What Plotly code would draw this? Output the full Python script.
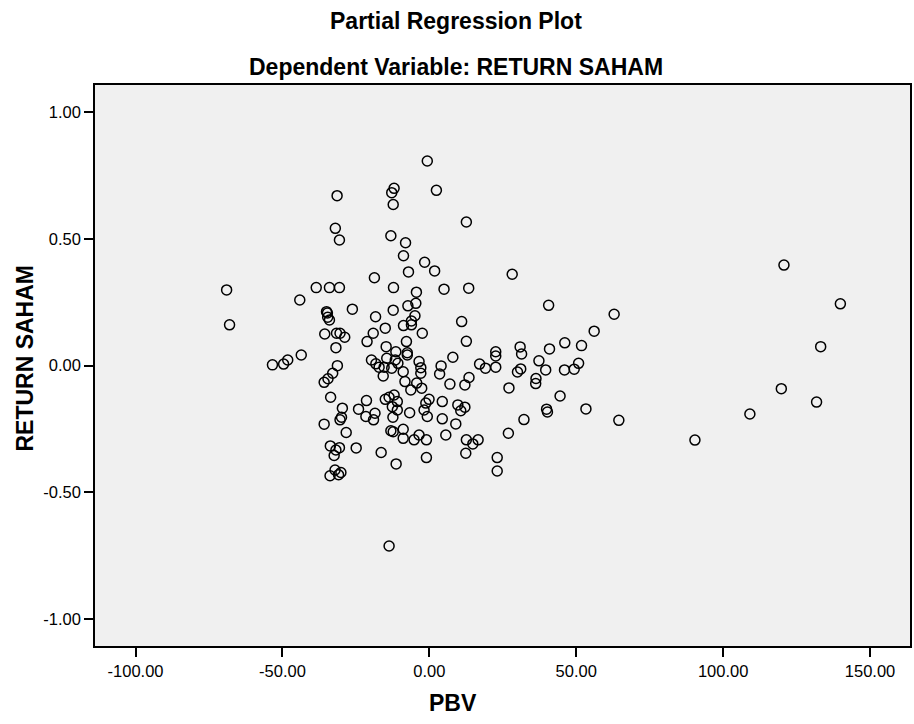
import plotly.graph_objects as go

# PBV (x) and RETURN SAHAM (y) partial residuals
pbv = [
    -69.0, -68.0, -53.4, -49.6, -48.2, -43.6, -44.1, -38.5, -34.0, -30.6,
    -31.4, -32.0, -30.6, -26.2, -35.0, -34.7, -34.6, -34.0, -35.6, -31.6,
    -30.4, -28.8, -31.8, -31.3, -32.9, -34.5, -35.8, -33.6, -29.6, -29.9,
    -30.4, -35.8, -28.3, -33.7, -30.6, -31.8, -32.4, -32.1, -30.1, -30.9,
    -33.8, -24.9, -19.1, -21.2, -18.7, -18.3, -19.7, -18.2, -17.1, -15.4,
    -14.5, -12.8, -15.7, -11.6, -10.7, -15.0, -14.7, -11.4, -21.4, -24.1,
    -21.6, -18.5, -19.0, -15.0, -13.7, -12.0, -12.6, -12.4, -13.1, -12.3,
    -16.4, -11.3, -13.7, -12.0, -12.8, -12.3, -13.1, -12.2, -12.3,
    -0.7, 2.4, 12.6, -8.1, -8.8, -1.6, 1.8, -7.1, 28.2, -4.4,
    5.0, 13.4, -4.6, -7.3, -4.9, -6.1, -6.1, -8.8, -2.4, 11.0,
    12.6, -7.8, -7.5, -7.5, -3.5, -2.9, -2.9, -8.9, -8.3, -4.3,
    -6.3, -2.6, 4.0, 3.5, 8.0, 7.0, 12.1, 13.5, 17.1, 19.1,
    -10.9, -10.9, -6.7, -0.1, -1.2, -1.8, -0.7, 4.4, 9.7, 12.1,
    10.7, 4.4, 9.0, 5.6, -3.5, -5.2, -1.0, -8.9, -8.9, -1.0,
    12.6, 16.6, 14.8, 12.4, 23.1, 23.1, 22.6, 22.6, 22.6, 30.9,
    31.4, 37.3, 31.1, 30.0, 36.3, 36.2, 27.1, 40.9, 46.1, 51.8,
    50.8, 49.3, 46.0, 39.6, 40.6, 62.9, 56.1, 44.5, 39.9, 40.2,
    53.3, 32.2, 64.5, 26.9, 90.4, 109.1, 119.8, 120.7, 131.8, 133.2,
    139.9,
]
return_saham = [
    0.299, 0.161, 0.003, 0.006, 0.022, 0.042, 0.259, 0.308, 0.308, 0.308,
    0.671, 0.542, 0.496, 0.223, 0.213, 0.208, 0.191, 0.180, 0.125, 0.128,
    0.128, 0.112, 0.071, 0.000, -0.030, -0.052, -0.066, -0.125, -0.168, -0.204,
    -0.214, -0.231, -0.264, -0.317, -0.324, -0.333, -0.355, -0.412, -0.422, -0.431,
    -0.435, -0.325, 0.128, 0.095, 0.347, 0.193, 0.022, 0.007, -0.006, -0.006,
    0.029, -0.010, -0.041, 0.022, 0.009, 0.148, 0.075, 0.055, -0.138, -0.172,
    -0.201, -0.188, -0.214, -0.133, -0.125, -0.116, -0.162, -0.204, -0.257, -0.261,
    -0.343, -0.388, -0.712, 0.700, 0.683, 0.636, 0.513, 0.308, 0.219,
    0.808, 0.692, 0.567, 0.485, 0.434, 0.408, 0.374, 0.370, 0.361, 0.290,
    0.302, 0.306, 0.246, 0.236, 0.197, 0.176, 0.161, 0.158, 0.128, 0.174,
    0.096, 0.095, 0.051, 0.042, 0.016, -0.008, -0.030, -0.024, -0.063, -0.069,
    -0.096, -0.089, -0.001, -0.033, 0.033, -0.073, -0.076, -0.047, 0.006, -0.010,
    -0.142, -0.175, -0.186, -0.133, -0.148, -0.175, -0.201, -0.142, -0.155, -0.164,
    -0.178, -0.210, -0.230, -0.274, -0.274, -0.293, -0.293, -0.287, -0.251, -0.363,
    -0.293, -0.293, -0.309, -0.346, -0.363, -0.416, 0.055, 0.038, -0.006, 0.074,
    0.046, 0.019, -0.013, -0.025, -0.051, -0.071, -0.088, 0.066, 0.090, 0.079,
    0.009, -0.014, -0.017, -0.017, 0.238, 0.203, 0.136, -0.120, -0.172, -0.183,
    -0.171, -0.213, -0.216, -0.267, -0.294, -0.191, -0.091, 0.397, -0.144, 0.075,
    0.244,
]

x_ticks = [-100, -50, 0, 50, 100, 150]
x_tick_labels = ["-100.00", "-50.00", "0.00", "50.00", "100.00", "150.00"]
y_ticks = [1.0, 0.5, 0.0, -0.5, -1.0]
y_tick_labels = ["1.00", "0.50", "0.00", "-0.50", "-1.00"]

title_main = "Partial Regression Plot"
title_sub = "Dependent Variable: RETURN SAHAM"
x_title = "PBV"
y_title = "RETURN SAHAM"

FONT = "Liberation Sans, Arial, sans-serif"

fig = go.Figure()
fig.add_trace(go.Scatter(
    x=pbv, y=return_saham, mode="markers",
    marker=dict(symbol="circle-open", size=10, color="black",
                line=dict(color="black", width=1.5)),
    hoverinfo="x+y", showlegend=False,
))

axis_common = dict(
    showgrid=False, zeroline=False, showline=True, mirror=True,
    linecolor="black", linewidth=1.5, ticks="outside", ticklen=9,
    tickwidth=1.5, tickcolor="black",
    tickfont=dict(family=FONT, size=16.5, color="black"),
)

fig.update_xaxes(range=[-113.8, 163.6], tickmode="array", tickvals=x_ticks,
                 ticktext=x_tick_labels, **axis_common)
fig.update_yaxes(range=[-1.107, 1.108], tickmode="array", tickvals=y_ticks,
                 ticktext=y_tick_labels, **axis_common)

bold = dict(family=FONT, size=23, color="black")
fig.add_annotation(text="<b>%s</b>" % title_main, xref="paper", yref="paper",
                   x=0.443, y=1.114, showarrow=False, font=bold,
                   xanchor="center", yanchor="middle")
fig.add_annotation(text="<b>%s</b>" % title_sub, xref="paper", yref="paper",
                   x=0.443, y=1.032, showarrow=False, font=bold,
                   xanchor="center", yanchor="middle")
fig.add_annotation(text="<b>%s</b>" % x_title, xref="paper", yref="paper",
                   x=0.439, y=-0.102, showarrow=False, font=bold,
                   xanchor="center", yanchor="middle")
fig.add_annotation(text="<b>%s</b>" % y_title, xref="paper", yref="paper",
                   x=-0.086, y=0.514, showarrow=False, font=bold,
                   textangle=-90, xanchor="center", yanchor="middle")

fig.update_layout(
    width=914, height=724,
    margin=dict(l=95, r=2, t=85, b=78),
    paper_bgcolor="white", plot_bgcolor="#F0F0F0",
    font=dict(family=FONT, color="black"),
)

fig.write_html(
    "out.html",
    config={"displayModeBar": False},
    post_script="document.body.style.margin='0';"
                "document.body.style.overflow='hidden';",
)
